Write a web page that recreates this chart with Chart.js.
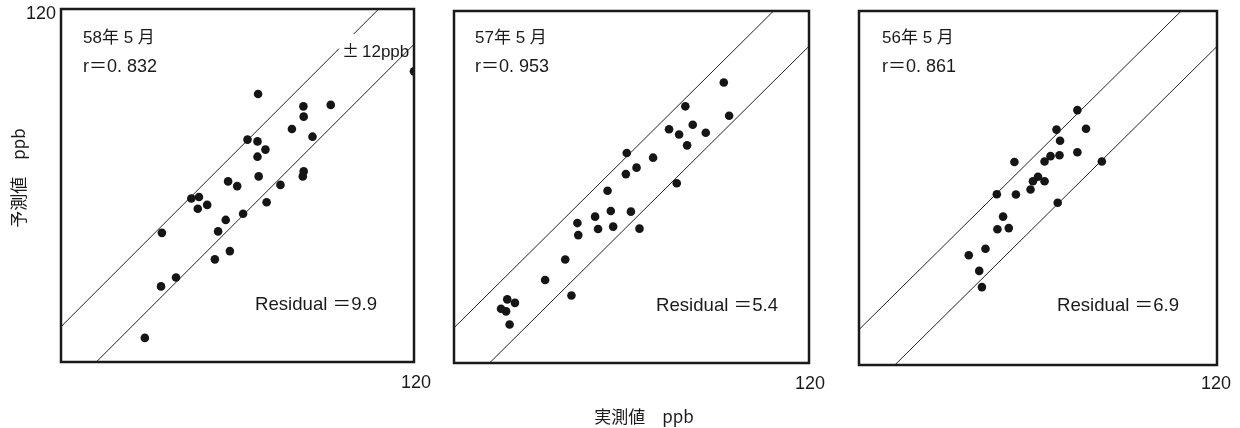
<!DOCTYPE html>
<html lang="ja">
<head>
<meta charset="utf-8">
<script src="https://cdn.jsdelivr.net/npm/chart.js@4.4.0/dist/chart.umd.min.js"></script>
<style>
  body { margin: 0; background: #fff; }
  #wrap {
    position: relative; width: 1240px; height: 428px; overflow: hidden;
    font-family: "Liberation Sans", "Noto Sans CJK JP", sans-serif; color: #1a1a1a;
  }
  #wrap canvas { position: absolute; left: 0; top: 0; }
  .t { position: absolute; white-space: nowrap; font-size: 17px; line-height: 20px; }
  .jp { font-family: "Noto Sans CJK JP", sans-serif; }
  .num { font-size: 18px; }
  .res { font-size: 18.6px; }
</style>
</head>
<body>
<div id="wrap">
  <canvas id="p58" width="1240" height="428"></canvas>
  <canvas id="p57" width="1240" height="428"></canvas>
  <canvas id="p56" width="1240" height="428"></canvas>

  <!-- panel texts -->
  <div class="t" style="left:83px;top:26px">58<span class="jp">年</span> 5 <span class="jp">月</span></div>
  <div class="t num" style="left:83px;top:54px">r<span class="jp">＝</span>0. 832</div>
  <div class="t" style="left:342px;top:40px"><span class="jp" style="margin-right:3px">±</span>12ppb</div>
  <div class="t res" style="left:255px;top:292px">Residual <span class="jp">＝</span>9.9</div>

  <div class="t" style="left:475px;top:26px">57<span class="jp">年</span> 5 <span class="jp">月</span></div>
  <div class="t num" style="left:475px;top:54px">r<span class="jp">＝</span>0. 953</div>
  <div class="t res" style="left:656px;top:293px">Residual <span class="jp">＝</span>5.4</div>

  <div class="t" style="left:882px;top:26px">56<span class="jp">年</span> 5 <span class="jp">月</span></div>
  <div class="t num" style="left:882px;top:54px">r<span class="jp">＝</span>0. 861</div>
  <div class="t res" style="left:1057px;top:293px">Residual <span class="jp">＝</span>6.9</div>

  <!-- tick labels -->
  <div class="t num" style="left:26px;top:3px">120</div>
  <div class="t num" style="left:401px;top:372px">120</div>
  <div class="t num" style="left:795px;top:373px">120</div>
  <div class="t num" style="left:1201px;top:373px">120</div>

  <!-- axis titles -->
  <div class="t jp" style="left:18px;top:178px;transform:translate(-50%,-50%) rotate(-90deg)">予測値　ppb</div>
  <div class="t jp" style="left:644px;top:416px;transform:translate(-50%,-50%)">実測値　ppb</div>
</div>

<script>
// 実測値 (x) / 予測値 (y), ppb
const obs58 = [67.0, 82.4, 91.7, 82.5, 78.5, 85.5, 63.4, 66.8, 69.5, 66.8, 67.2, 82.5, 82.2, 56.8, 59.9, 74.6,
  44.3, 46.9, 46.5, 49.7, 69.9, 61.9, 56.0, 53.4, 34.3, 57.4, 52.3, 34.0, 39.1, 28.5, 120];
const pred58 = [91.1, 86.9, 87.4, 83.4, 79.2, 76.6, 75.6, 75.0, 72.2, 69.8, 63.1, 64.8, 63.1, 61.4, 59.8, 60.2,
  55.6, 56.1, 52.1, 53.4, 54.3, 50.4, 48.3, 44.4, 43.9, 37.7, 34.9, 25.7, 28.7, 8.2, 98.8];

const obs57 = [91.2, 93.0, 78.2, 80.7, 72.7, 76.1, 85.1, 78.8, 58.4, 67.3, 61.7, 58.1, 75.3, 51.9, 47.7,
  53.0, 59.8, 41.7, 42.0, 48.7, 53.8, 62.7, 37.6, 30.8, 39.7, 18.0, 20.6, 15.9, 17.6, 18.8];
const pred57 = [95.6, 84.3, 87.5, 81.2, 79.7, 77.9, 78.5, 74.2, 71.6, 70.0, 66.6, 64.4, 61.3, 58.7, 49.9,
  51.8, 51.6, 47.7, 43.6, 45.7, 46.5, 45.8, 35.3, 28.3, 23.0, 21.7, 20.5, 18.5, 17.6, 13.1];

const obs56 = [73.2, 66.2, 76.1, 67.4, 64.2, 67.2, 73.2, 62.2, 52.1, 81.4, 60.0, 58.3, 62.2, 57.5, 46.2,
  52.6, 66.6, 48.3, 46.4, 50.2, 42.4, 36.8, 40.3, 41.2];
const pred56 = [86.4, 79.8, 80.1, 76.0, 70.8, 71.1, 72.1, 69.0, 68.8, 69.0, 63.8, 62.3, 62.3, 59.5, 57.9,
  57.8, 55.0, 50.3, 46.0, 46.4, 39.4, 37.2, 31.9, 26.4];

// ±12ppb の線
const upperX = [0, 108];
const upperY = [12, 120];
const lowerX = [12, 120];
const lowerY = [0, 108];
// 58年は「±12ppb」の文字のところで線が切れている
const upper58X = [0, 94.5, 97, 99.5, 108];
const upper58Y = [12, 106.5, null, 111.5, 120];

const framePlugin = {
  id: "frame",
  afterDatasetsDraw(chart) {
    const a = chart.chartArea;
    const ctx = chart.ctx;
    ctx.save();
    ctx.lineWidth = 2.5;
    ctx.strokeStyle = "#1a1a1a";
    ctx.strokeRect(a.left, a.top, a.right - a.left, a.bottom - a.top);
    ctx.restore();
  }
};

function toPoints(xs, ys) {
  return xs.map((x, i) => ({ x: x, y: ys[i] }));
}

function makePanel(id, pad, obs, pred, upX, upY) {
  const ctx = document.getElementById(id).getContext("2d");
  new Chart(ctx, {
    type: "scatter",
    data: {
      datasets: [
        {
          data: toPoints(obs, pred),
          pointRadius: 4.3,
          pointHoverRadius: 4.3,
          backgroundColor: "#151515",
          borderWidth: 0,
          clip: 0
        },
        {
          type: "line",
          data: toPoints(upX, upY),
          borderColor: "#222",
          borderWidth: 1,
          pointRadius: 0,
          spanGaps: false,
          fill: false,
          clip: 0
        },
        {
          type: "line",
          data: toPoints(lowerX, lowerY),
          borderColor: "#222",
          borderWidth: 1,
          pointRadius: 0,
          fill: false,
          clip: 0
        }
      ]
    },
    options: {
      responsive: false,
      animation: false,
      events: [],
      layout: { padding: pad },
      plugins: { legend: { display: false }, tooltip: { enabled: false } },
      scales: {
        x: { type: "linear", min: 0, max: 120, display: false },
        y: { type: "linear", min: 0, max: 120, display: false }
      }
    },
    plugins: [framePlugin]
  });
}

document.addEventListener("DOMContentLoaded", function () {
  try {
    makePanel("p58", { left: 61, top: 9, right: 1240 - 414, bottom: 428 - 362 }, obs58, pred58, upper58X, upper58Y);
    makePanel("p57", { left: 454, top: 11, right: 1240 - 809, bottom: 428 - 363 }, obs57, pred57, upperX, upperY);
    makePanel("p56", { left: 859, top: 11, right: 1240 - 1217, bottom: 428 - 365 }, obs56, pred56, upperX, upperY);
  } catch (error) {
    console.error("グラフの作成中にエラーが発生しました:", error);
  }
});
</script>
</body>
</html>
